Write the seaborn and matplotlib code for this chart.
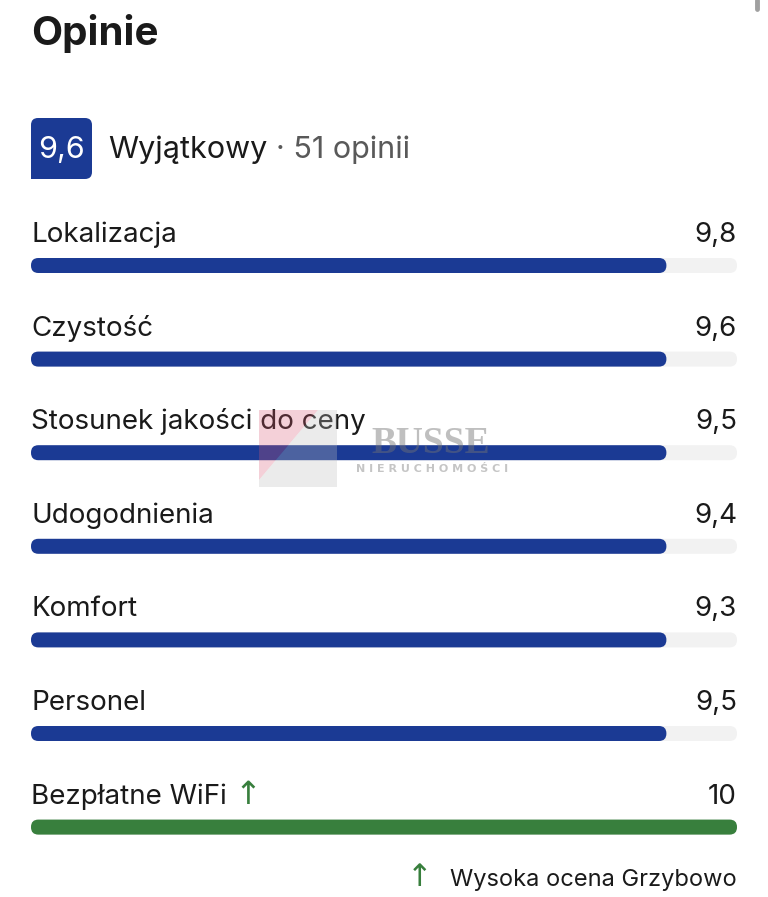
import matplotlib
matplotlib.use("Agg")
import matplotlib.pyplot as plt
import seaborn as sns
import pandas as pd
from matplotlib.patches import FancyBboxPatch, Polygon, Rectangle
from matplotlib.transforms import blended_transform_factory

# ---------------- data ----------------
title = "Opinie"
overall_score = "9,6"
overall_label = "Wyjątkowy"
review_count = "· 51 opinii"
categories = ["Lokalizacja", "Czystość", "Stosunek jakości do ceny",
              "Udogodnienia", "Komfort", "Personel", "Bezpłatne WiFi"]
score_labels = ["9,8", "9,6", "9,5", "9,4", "9,3", "9,5", "10"]
bar_fill = [9.0, 9.0, 9.0, 9.0, 9.0, 9.0, 10.0]   # bar lengths as drawn
track_max = [10, 10, 10, 10, 10, 10, 10]
kind = ["standard"] * 6 + ["high"]
footer = "Wysoka ocena Grzybowo"

BLUE = "#1b3a94"
GREEN = "#387f3d"
TRACK = "#f2f2f2"

sns.set_theme(style="white")
plt.rcParams["font.family"] = ["Inter", "DejaVu Sans"]

W, H = 768, 897
fig = plt.figure(figsize=(W / 100, H / 100), dpi=100)
fig.patch.set_facecolor("white")

row_px = 93.6
first_center = 265.5
top_px = first_center - row_px / 2
bot_px = top_px + 7 * row_px
ax = fig.add_axes([31 / W, 1 - bot_px / H, 706 / W, (7 * row_px) / H])

df = pd.DataFrame({"category": categories, "fill": bar_fill,
                   "track": track_max, "kind": kind})
bar_h = 15 / row_px
sns.barplot(data=df, x="track", y="category", color=TRACK, width=bar_h,
            ax=ax, orient="h", saturation=1)
sns.barplot(data=df, x="fill", y="category", hue="kind",
            palette={"standard": BLUE, "high": GREEN}, width=bar_h,
            ax=ax, orient="h", dodge=False, legend=False, saturation=1)
ax.set_xlim(0, 10)
ax.set_ylim(6.5, -0.5)
ax.axis("off")

# round the bar ends
x_px_per_unit = 706 / 10
rs = 7.4 / x_px_per_unit
asp = (1 / row_px) / (1 / x_px_per_unit)
for p in list(ax.patches):
    x, y, w, h = p.get_x(), p.get_y(), p.get_width(), p.get_height()
    if w <= 0:
        continue
    fc = p.get_facecolor()
    z = p.get_zorder()
    p.set_visible(False)
    ax.add_patch(FancyBboxPatch((x, y), w, h,
                                boxstyle=f"round,pad=0,rounding_size={rs}",
                                mutation_aspect=asp, fc=fc, ec="none",
                                zorder=z))

trans = blended_transform_factory(ax.transAxes, ax.transData)
lab_off = 23.5 / row_px
FS = 20
label_texts = []
for i, (cat, sl) in enumerate(zip(categories, score_labels)):
    t = ax.text(0, i - lab_off, cat, transform=trans, ha="left",
                va="baseline", fontsize=FS, color="#1a1a1a")
    label_texts.append(t)
    ax.text(1, i - lab_off, sl, transform=trans, ha="right",
            va="baseline", fontsize=FS, color="#1a1a1a")

# green arrow after highlighted category
fig.canvas.draw()
renderer = fig.canvas.get_renderer()
for i, k in enumerate(kind):
    if k == "high":
        bb = label_texts[i].get_window_extent(renderer)
        xa = ax.transAxes.inverted().transform((bb.x1 + 8, 0))[0]
        ax.text(xa, i - lab_off, "↑", transform=trans, ha="left",
                va="baseline", fontsize=23, color=GREEN,
                family=["DejaVu Sans"])

# ---------------- decorations in pixel space ----------------
deco = fig.add_axes([0, 0, 1, 1], zorder=5)
deco.set_xlim(0, W)
deco.set_ylim(H, 0)
deco.axis("off")
deco.patch.set_alpha(0)

deco.text(31, 45, title, fontsize=29, fontweight="bold", ha="left",
          va="baseline", color="#1a1a1a")

# score badge
deco.add_patch(FancyBboxPatch((31, 118), 61, 61,
                              boxstyle="round,pad=0,rounding_size=7",
                              fc=BLUE, ec="none"))
deco.add_patch(Rectangle((31, 165), 14, 14, fc=BLUE, ec="none"))
deco.text(61.5, 158, overall_score, fontsize=22, color="white",
          ha="center", va="baseline")
t1 = deco.text(108, 158, overall_label, fontsize=22, color="#1a1a1a",
               ha="left", va="baseline")
fig.canvas.draw()
bb = t1.get_window_extent(fig.canvas.get_renderer())
x_end = deco.transData.inverted().transform((bb.x1, 0))[0]
deco.text(x_end + 9, 158, review_count, fontsize=22, color="#595959",
          ha="left", va="baseline")

# footer
ft = deco.text(737, 886, footer, fontsize=17, color="#1a1a1a",
               ha="right", va="baseline")
fig.canvas.draw()
bb = ft.get_window_extent(fig.canvas.get_renderer())
x_start = deco.transData.inverted().transform((bb.x0, 0))[0]
deco.text(x_start - 18, 886, "↑", fontsize=22, color=GREEN, ha="right",
          va="baseline", family=["DejaVu Sans"])

# scrollbar hint
deco.plot([757, 757], [0, 9], lw=3.5, color="#a0a0a0",
          solid_capstyle="round")

# watermark
deco.add_patch(Polygon([(259, 410), (318, 410), (259, 480)], closed=True,
                       fc=(0.85, 0.35, 0.45, 0.28), ec="none"))
deco.add_patch(Polygon([(318, 410), (337, 410), (337, 487), (259, 487),
                        (259, 480)], closed=True,
                       fc=(0.75, 0.75, 0.75, 0.3), ec="none"))
deco.text(431, 453, "BUSSE", fontsize=27, fontweight="bold",
          family=["Liberation Serif"], color=(0.45, 0.45, 0.45, 0.45),
          ha="center", va="baseline")
deco.text(432, 472, " ".join("NIERUCHOMOŚCI"), fontsize=8,
          fontweight="bold", color=(0.5, 0.5, 0.5, 0.45), ha="center",
          va="baseline", family=["DejaVu Sans"])

fig.savefig("out.png", dpi=100, facecolor="white")
